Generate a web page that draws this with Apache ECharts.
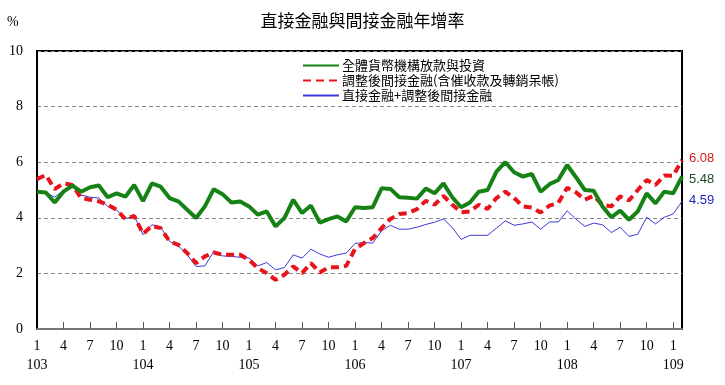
<!DOCTYPE html>
<html>
<head>
<meta charset="utf-8">
<script src="https://cdn.jsdelivr.net/npm/echarts@6/dist/echarts.min.js"></script>
<style>html,body{margin:0;padding:0;background:#fff;}#c{width:725px;height:385px;}</style>
</head>
<body>
<div id="c"></div>
<script>
// Categories: 103/1 .. 109/2 (ROC year/month)
var categories = [
 '103/1','103/2','103/3','103/4','103/5','103/6','103/7','103/8','103/9','103/10','103/11','103/12',
 '104/1','104/2','104/3','104/4','104/5','104/6','104/7','104/8','104/9','104/10','104/11','104/12',
 '105/1','105/2','105/3','105/4','105/5','105/6','105/7','105/8','105/9','105/10','105/11','105/12',
 '106/1','106/2','106/3','106/4','106/5','106/6','106/7','106/8','106/9','106/10','106/11','106/12',
 '107/1','107/2','107/3','107/4','107/5','107/6','107/7','107/8','107/9','107/10','107/11','107/12',
 '108/1','108/2','108/3','108/4','108/5','108/6','108/7','108/8','108/9','108/10','108/11','108/12',
 '109/1','109/2'
];
var labeledMonths = ['1','4','7','10'];
var yTicks = [0, 2, 4, 6, 8, 10];

var seriesNames = ['全體貨幣機構放款與投資', '調整後間接金融(含催收款及轉銷呆帳)', '直接金融+調整後間接金融'];

var greenValues = [
 4.94,4.91,4.55,4.94,5.16,4.94,5.10,5.16,4.74,4.88,4.76,5.18,
 4.60,5.24,5.12,4.71,4.59,4.29,3.99,4.41,5.03,4.85,4.55,4.59,
 4.41,4.11,4.23,3.69,3.99,4.65,4.17,4.44,3.83,3.95,4.05,3.87,
 4.38,4.35,4.38,5.06,5.04,4.74,4.72,4.69,5.05,4.88,5.24,4.74,
 4.38,4.55,4.94,5.00,5.66,6.00,5.64,5.48,5.58,4.94,5.21,5.36,
 5.90,5.46,5.00,4.97,4.41,4.02,4.26,3.93,4.23,4.88,4.52,4.94,
 4.88,5.48
];
var redValues = [
 5.39,5.54,5.03,5.24,5.18,4.71,4.65,4.59,4.47,4.29,3.96,4.07,
 3.42,3.71,3.63,3.15,3.03,2.73,2.37,2.61,2.75,2.67,2.67,2.67,
 2.49,2.19,2.01,1.77,1.95,2.25,2.01,2.37,2.03,2.22,2.22,2.27,
 2.88,3.09,3.27,3.63,3.96,4.14,4.17,4.31,4.61,4.47,4.79,4.47,
 4.20,4.23,4.47,4.32,4.71,4.94,4.71,4.41,4.37,4.19,4.44,4.53,
 5.08,4.92,4.65,4.79,4.47,4.41,4.77,4.62,5.00,5.36,5.18,5.52,
 5.51,6.08
];
var blueValues = [
 4.94,4.92,4.74,5.00,5.16,4.82,4.74,4.71,4.41,4.29,3.96,4.07,
 3.39,3.75,3.66,3.15,2.99,2.67,2.25,2.27,2.79,2.63,2.61,2.58,
 2.55,2.27,2.39,2.13,2.21,2.67,2.55,2.87,2.70,2.58,2.67,2.73,
 3.08,3.11,3.09,3.53,3.73,3.59,3.59,3.66,3.76,3.84,3.96,3.65,
 3.22,3.37,3.37,3.37,3.63,3.89,3.73,3.78,3.85,3.59,3.85,3.85,
 4.25,3.95,3.69,3.81,3.75,3.47,3.66,3.33,3.41,4.02,3.78,4.02,
 4.14,4.59
];

var chart = echarts.init(document.getElementById('c'), null, {renderer: 'canvas'});

function monthOf(v) { return v.split('/')[1]; }
function isLabeled(idx, v) { return idx < categories.length - 1 && labeledMonths.indexOf(monthOf(v)) >= 0; }

var numFont = 'Liberation Serif';

chart.setOption({
  animation: false,
  backgroundColor: '#fff',
  title: {
    text: '直接金融與間接金融年增率',
    left: 'center',
    top: 7,
    textStyle: {fontFamily: 'Noto Sans CJK TC', fontSize: 17, fontWeight: 'normal', color: '#000'}
  },
  graphic: [{
    type: 'text', left: 7, top: 15,
    style: {text: '%', font: '14px "Liberation Serif"', fill: '#000'}
  }],
  legend: {
    orient: 'vertical',
    left: 302,
    top: 58,
    padding: 0,
    itemWidth: 36,
    itemHeight: 10,
    itemGap: 0,
    data: seriesNames,
    itemStyle: {opacity: 0},
    textStyle: {fontFamily: 'Noto Sans CJK TC', fontSize: 13, lineHeight: 15, color: '#000', padding: [0, 0, 0, -2]}
  },
  grid: {
    left: 37, right: 43, top: 51, bottom: 56,
    show: true, borderColor: '#000', borderWidth: 2, backgroundColor: 'transparent'
  },
  xAxis: {
    type: 'category',
    data: categories,
    boundaryGap: false,
    axisLine: {lineStyle: {color: '#777', width: 2}},
    axisTick: {
      show: true, inside: true, length: 7,
      interval: function (idx, v) { return idx > 0 && labeledMonths.indexOf(monthOf(v)) >= 0; },
      lineStyle: {color: '#555', width: 1}
    },
    axisLabel: {
      interval: function (idx, v) { return isLabeled(idx, v); },
      margin: 8,
      lineHeight: 19,
      fontFamily: numFont, fontSize: 14, color: '#000',
      formatter: function (v) {
        var p = v.split('/');
        return p[1] === '1' ? p[1] + '\n' + p[0] : p[1];
      }
    },
    splitLine: {show: false}
  },
  yAxis: {
    type: 'value',
    min: yTicks[0], max: yTicks[yTicks.length - 1], interval: 2,
    axisLine: {show: true, lineStyle: {color: '#000', width: 2}},
    axisTick: {show: false},
    axisLabel: {margin: 14, fontFamily: numFont, fontSize: 14, color: '#000'},
    splitLine: {show: true, lineStyle: {color: '#888', type: [4, 3], width: 1}}
  },
  series: [
    {
      name: seriesNames[2], type: 'line', data: blueValues, symbol: 'none', z: 2,
      lineStyle: {color: '#3a3ad8', width: 1},
      itemStyle: {color: '#3a3ad8'},
      endLabel: {show: true, distance: 7, offset: [0, -1], fontFamily: 'Liberation Sans', fontSize: 13, color: '#2424c0',
        formatter: function (p) { return p.value.toFixed(2); }}
    },
    {
      name: seriesNames[1], type: 'line', data: redValues, symbol: 'none', z: 3,
      lineStyle: {color: '#e8141c', width: 4, type: [8, 5]},
      itemStyle: {color: '#e8141c'},
      endLabel: {show: true, distance: 7, offset: [0, -2], fontFamily: 'Liberation Sans', fontSize: 13, color: '#d01818',
        formatter: function (p) { return p.value.toFixed(2); }}
    },
    {
      name: seriesNames[0], type: 'line', data: greenValues, symbol: 'none', z: 4,
      lineStyle: {color: '#168216', width: 4},
      itemStyle: {color: '#168216'},
      endLabel: {show: true, distance: 7, offset: [0, 3], fontFamily: 'Liberation Sans', fontSize: 13, color: '#1e4a26',
        formatter: function (p) { return p.value.toFixed(2); }}
    }
  ]
});
</script>
</body>
</html>
